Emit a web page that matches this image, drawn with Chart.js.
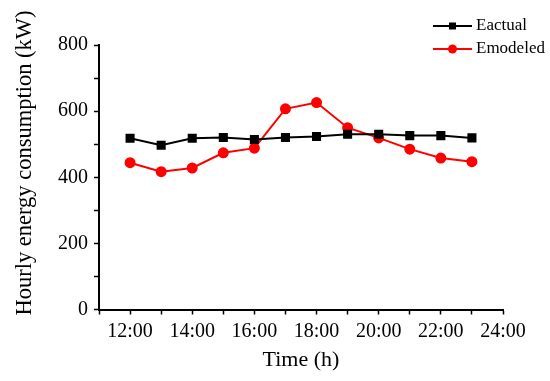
<!DOCTYPE html>
<html>
<head>
<meta charset="utf-8">
<script src="https://cdn.jsdelivr.net/npm/chart.js@4.4.1/dist/chart.umd.min.js"></script>
<style>
  html, body { margin: 0; padding: 0; background: #fff; }
  #wrap { width: 550px; height: 381px; }
</style>
</head>
<body>
<div id="wrap"><canvas id="myChart" width="550" height="381"></canvas></div>
<script>
// data
var hours = [12, 13, 14, 15, 16, 17, 18, 19, 20, 21, 22, 23];
var eactual = [518, 497, 518, 520, 514, 520, 523, 530, 530, 526, 526, 519];
var emodeled = [444, 417, 428, 474, 488, 607, 626, 550, 519, 485, 458, 447];

function puntos(valores) {
  return hours.map(function (h, i) {
    return { x: h, y: valores[i] };
  });
}

var fuente = "'Liberation Serif', 'Times New Roman', serif";

// legend drawn by hand: line with marker, then the name
const leyenda = {
  id: "leyenda",
  afterDraw(chart) {
    const ctx = chart.ctx;
    const filas = [
      { y: 26, ds: chart.data.datasets[0] },
      { y: 49, ds: chart.data.datasets[1] },
    ];
    ctx.save();
    filas.forEach(function (f) {
      ctx.strokeStyle = f.ds.borderColor;
      ctx.lineWidth = 2;
      ctx.beginPath();
      ctx.moveTo(433, f.y);
      ctx.lineTo(472, f.y);
      ctx.stroke();
      ctx.fillStyle = f.ds.borderColor;
      if (f.ds.pointStyle === "rect") {
        ctx.fillRect(449, f.y - 3.5, 7, 7);
      } else {
        ctx.beginPath();
        ctx.arc(452.5, f.y, 4.5, 0, Math.PI * 2);
        ctx.fill();
      }
      ctx.fillStyle = "#000";
      ctx.font = "17px " + fuente;
      ctx.textBaseline = "middle";
      ctx.fillText(f.ds.label, 476, f.y);
    });
    ctx.restore();
  },
};

// y title placed by hand, it sits a bit above the middle of the axis
const tituloY = {
  id: "tituloY",
  afterDraw(chart) {
    const ctx = chart.ctx;
    ctx.save();
    ctx.translate(25, 163);
    ctx.rotate(-Math.PI / 2);
    ctx.fillStyle = "#000";
    ctx.font = "22.5px " + fuente;
    ctx.textAlign = "center";
    ctx.textBaseline = "middle";
    ctx.fillText("Hourly energy consumption (kW)", 0, 0);
    ctx.restore();
  },
};

const ctx = document.getElementById("myChart").getContext("2d");
const myChart = new Chart(ctx, {
  type: "line",
  data: {
    datasets: [
      {
        label: "Eactual",
        data: puntos(eactual),
        borderColor: "#000000",
        backgroundColor: "#000000",
        borderWidth: 2,
        pointStyle: "rect",
        pointRadius: 5,
        tension: 0,
      },
      {
        label: "Emodeled",
        data: puntos(emodeled),
        borderColor: "#ff0000",
        backgroundColor: "#ff0000",
        borderWidth: 2,
        pointStyle: "circle",
        pointRadius: 4.5,
        tension: 0,
      },
    ],
  },
  options: {
    responsive: false,
    animation: false,
    layout: { padding: { top: 45, right: 47, left: 0, bottom: 0 } },
    plugins: { legend: { display: false }, tooltip: { enabled: false } },
    scales: {
      x: {
        type: "linear",
        min: 11,
        max: 24,
        grid: { drawOnChartArea: false, tickLength: 5, color: "#000", tickWidth: 1.5 },
        border: { color: "#000", width: 2 },
        ticks: {
          stepSize: 1,
          autoSkip: false,
          maxRotation: 0,
          color: "#000",
          padding: 5,
          font: { family: fuente, size: 20 },
          callback: function (v) {
            return v % 2 === 0 ? v + ":00" : "";
          },
        },
        title: {
          display: true,
          text: "Time (h)",
          color: "#000",
          font: { family: fuente, size: 22 },
          padding: { top: 2, bottom: 8 },
        },
        afterFit: function (s) {
          s.height = 71.5;
        },
      },
      y: {
        min: 0,
        max: 800,
        grid: { drawOnChartArea: false, tickLength: 5, color: "#000", tickWidth: 1.5 },
        border: { color: "#000", width: 2 },
        ticks: {
          stepSize: 100,
          autoSkip: false,
          color: "#000",
          padding: 6,
          font: { family: fuente, size: 20 },
          callback: function (v) {
            return v % 200 === 0 ? v : "";
          },
        },
        afterFit: function (s) {
          s.width = 99;
        },
      },
    },
  },
  plugins: [leyenda, tituloY],
});
</script>
</body>
</html>
